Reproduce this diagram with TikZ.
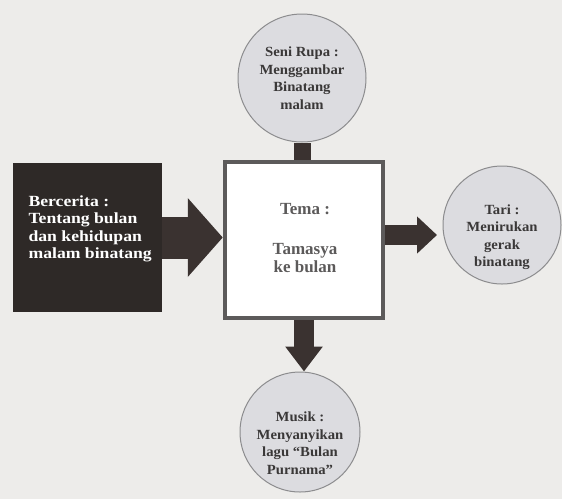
\documentclass[tikz,border=0pt]{standalone}
\usepackage{fontspec}
\setmainfont{Liberation Serif}
\newfontfamily\lblwide{Liberation Serif}[FakeStretch=1.14]
\newfontfamily\lblmid{Liberation Serif}[FakeStretch=1.05]
\usetikzlibrary{arrows.meta,calc}
\definecolor{bgc}{HTML}{EDECEA}
\definecolor{darkc}{HTML}{2E2927}
\definecolor{arrc}{HTML}{3A3230}
\definecolor{circf}{HTML}{DCDCE0}
\definecolor{circd}{HTML}{8C8C8E}
\definecolor{boxd}{HTML}{5C5A5A}
\definecolor{txtc}{HTML}{3A3838}
\tikzset{
  bubble/.style={circle,draw=circd,line width=1pt,fill=circf,inner sep=0pt},
  bubbletext/.style={align=center,font=\lblmid\bfseries\fontsize{14}{17.5}\selectfont,text=txtc},
  themebox/.style={rectangle,draw=boxd,line width=4.5pt,fill=white,minimum width=158pt,minimum height=156pt,inner sep=0pt},
  storybox/.style={rectangle,fill=darkc,minimum width=149pt,minimum height=149pt,inner sep=0pt},
  fatarrow/.style={arrc,line cap=butt},
}
\begin{document}
\begin{tikzpicture}[x=1pt,y=-1pt]
\fill[bgc] (0,0) rectangle (562,499);
\useasboundingbox (0,0) rectangle (562,499);
% nodes
\node[bubble,minimum size=128pt] (T) at (302,78) {};
\node[bubble,minimum size=118pt] (R) at (502,225) {};
\node[bubble,minimum size=120pt] (B) at (300,432) {};
\node[storybox] (L) at (87.5,237.5) {};
% connectors
\fill[arrc] ([xshift=-8.5pt]T.south) rectangle ([xshift=8.5pt]T.south |- 0,166);
\node[themebox] (C) at (304,240) {};
\draw[fatarrow,line width=42pt,-{Triangle[length=35pt,width=77pt]}] (L.east) -- (L.east -| C.west);
\coordinate (rt) at (437,235);
\draw[fatarrow,line width=20pt,-{Triangle[length=20pt,width=36pt]}] (C.east |- rt) -- (rt);
\coordinate (bt) at (C.south |- B.north);
\draw[fatarrow,line width=20pt,-{Triangle[length=25pt,width=36pt]}] (C.south) -- (bt);
% texts
\node[bubbletext] (Tt) at (T.center) {Seni Rupa :\\Menggambar\\Binatang\\malam};
\node[bubbletext] (Rt) at ($(R.center)+(0,12)$) {Tari :\\Menirukan\\gerak\\binatang};
\node[bubbletext] (Bt) at ($(B.center)+(0,11)$) {Musik :\\Menyanyikan\\lagu “Bulan\\Purnama”};
\node[align=left,anchor=west,text=white,font=\lblwide\bfseries\fontsize{15.5}{17.5}\selectfont] (Lt) at (25,229) {Bercerita :\\Tentang bulan\\dan kehidupan\\malam binatang};
\node[align=center,text=boxd,font=\bfseries\fontsize{17}{18}\selectfont] (Ct) at (305,238) {Tema :\\[22pt]Tamasya\\ke bulan};
\end{tikzpicture}
\end{document}
